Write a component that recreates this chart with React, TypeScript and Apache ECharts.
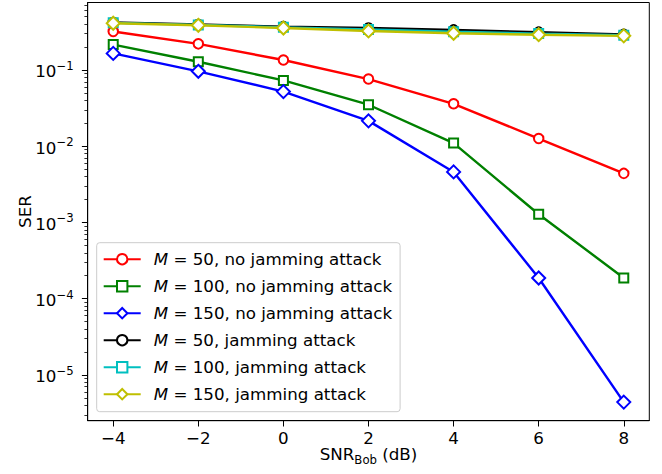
import React, { useEffect, useRef } from "react";
import * as echarts from "echarts";

const snr = [-4, -2, 0, 2, 4, 6, 8];
const serM50NoJam = [0.32, 0.22, 0.135, 0.076, 0.036, 0.0126, 0.0044];
const serM100NoJam = [0.215, 0.128, 0.073, 0.035, 0.011, 0.00128, 0.000187];
const serM150NoJam = [0.165, 0.096, 0.052, 0.0215, 0.0046, 0.000187, 4.4e-6];
const serM50Jam = [0.42, 0.395, 0.37, 0.355, 0.335, 0.313, 0.293];
const serM100Jam = [0.415, 0.39, 0.362, 0.34, 0.318, 0.3, 0.285];
const serM150Jam = [0.41, 0.385, 0.355, 0.325, 0.303, 0.29, 0.28];

const seriesNames = [
  "M = 50, no jamming attack",
  "M = 100, no jamming attack",
  "M = 150, no jamming attack",
  "M = 50, jamming attack",
  "M = 100, jamming attack",
  "M = 150, jamming attack",
];

const xTicks = [-4, -2, 0, 2, 4, 6, 8];
const yMajorTicks = [1e-5, 1e-4, 1e-3, 1e-2, 1e-1];
const yMinorTicks: number[] = [];
for (let e = -6; e <= -1; e++) {
  for (let k = 2; k <= 9; k++) yMinorTicks.push(k * Math.pow(10, e));
}

const FONT = "DejaVu Sans";
const FS = 16.7;

export default function App() {
  const ref = useRef<HTMLDivElement>(null);
  useEffect(() => {
    document.body.style.margin = "0";
    const chart = echarts.init(ref.current!, null, { renderer: "svg" });
    const yMin = 2.51e-6;
    const yMax = 0.767;
    const defs = [
      { vals: serM50NoJam, color: "#ff0000", symbol: "emptyCircle", size: 9.5 },
      { vals: serM100NoJam, color: "#008000", symbol: "emptyRect", size: 9 },
      { vals: serM150NoJam, color: "#0000ff", symbol: "emptyDiamond", size: 13 },
      { vals: serM50Jam, color: "#000000", symbol: "emptyCircle", size: 9.5 },
      { vals: serM100Jam, color: "#00bfbf", symbol: "emptyRect", size: 9 },
      { vals: serM150Jam, color: "#bfbf00", symbol: "emptyDiamond", size: 13 },
    ];
    const series = defs.map((d, i) => ({
      type: "line",
      name: seriesNames[i],
      data: snr.map((x, j) => [x, d.vals[j]]),
      symbol: d.symbol,
      symbolSize: d.size,
      showAllSymbol: true,
      lineStyle: { color: d.color, width: 2.4 },
      itemStyle: { color: d.color, borderColor: d.color, borderWidth: 1.7 },
      emphasis: { disabled: true },
      z: 2 + i,
    }));
    chart.setOption({
      animation: false,
      grid: {
        left: 87.7,
        right: 12.7,
        top: 2.5,
        bottom: 53.3,
        show: true,
        borderColor: "#000",
        borderWidth: 1,
        backgroundColor: "transparent",
        containLabel: false,
        outerBoundsMode: "none",
      },
      legend: {
        orient: "vertical",
        left: 96.7,
        top: 242.7,
        itemWidth: 37,
        itemHeight: 13,
        itemGap: 10,
        padding: [8, 8, 9, 6],
        backgroundColor: "rgba(255,255,255,0.8)",
        borderColor: "#cccccc",
        borderWidth: 1,
        borderRadius: 3,
        selectedMode: false,
        formatter: (name: string) => name.replace(/^M/, "{i|M}"),
        textStyle: {
          fontFamily: FONT,
          fontSize: FS,
          color: "#000",
          padding: [0, 0, 0, 8],
          rich: {
            i: { fontFamily: FONT, fontSize: FS, fontStyle: "italic", color: "#000" },
          },
        },
        data: seriesNames,
      },
      xAxis: {
        type: "value",
        min: -4.6,
        max: 8.6,
        splitLine: { show: false },
        axisLine: { show: true, onZero: false, lineStyle: { color: "#000", width: 1 } },
        axisTick: { show: true, length: 5.8, customValues: xTicks, lineStyle: { color: "#000" } },
        axisLabel: {
          customValues: xTicks,
          margin: 9,
          fontFamily: FONT,
          fontSize: FS,
          color: "#000",
          formatter: (v: number) => (v < 0 ? "\u2212" + -v : String(v)),
        },
        name: "{b|SNR}{sub|Bob}{b| (dB)}",
        nameLocation: "middle",
        nameGap: 25,
        nameMoveOverlap: false,
        nameTextStyle: {
          fontFamily: FONT,
          fontSize: FS,
          color: "#000",
          rich: {
            b: { fontFamily: FONT, fontSize: FS, lineHeight: 20, verticalAlign: "top", color: "#000" },
            sub: { fontFamily: FONT, fontSize: 11.7, lineHeight: 13.4, verticalAlign: "bottom", color: "#000" },
          },
        },
      },
      yAxis: [
        {
          type: "log",
          min: yMin,
          max: yMax,
          position: "left",
          splitLine: { show: false },
          minorTick: { show: false },
          axisLine: { show: true, onZero: false, lineStyle: { color: "#000", width: 1 } },
          axisTick: { show: true, length: 5.8, customValues: yMajorTicks, lineStyle: { color: "#000" } },
          axisLabel: {
            customValues: yMajorTicks,
            margin: 14,
            color: "#000",
            fontFamily: FONT,
            formatter: (v: number) => {
              const e = Math.round(Math.log10(v));
              return "{b|10}{sup|\u2212" + -e + "}";
            },
            rich: {
              b: { fontFamily: FONT, fontSize: FS, lineHeight: 20, verticalAlign: "bottom", color: "#000" },
              sup: { fontFamily: FONT, fontSize: 11.7, lineHeight: 10, verticalAlign: "top", color: "#000" },
            },
          },
          name: "SER",
          nameLocation: "middle",
          nameGap: 54.7,
          nameMoveOverlap: false,
          nameTextStyle: { fontFamily: FONT, fontSize: FS, color: "#000" },
        },
        {
          type: "log",
          min: yMin,
          max: yMax,
          position: "left",
          splitLine: { show: false },
          minorTick: { show: false },
          axisLine: { show: false, onZero: false },
          axisTick: { show: true, length: 3.3, customValues: yMinorTicks, lineStyle: { color: "#000", width: 0.8 } },
          axisLabel: { show: false },
        },
      ],
      series,
    });
    return () => chart.dispose();
  }, []);
  return <div ref={ref} style={{ width: 662, height: 474 }} />;
}
